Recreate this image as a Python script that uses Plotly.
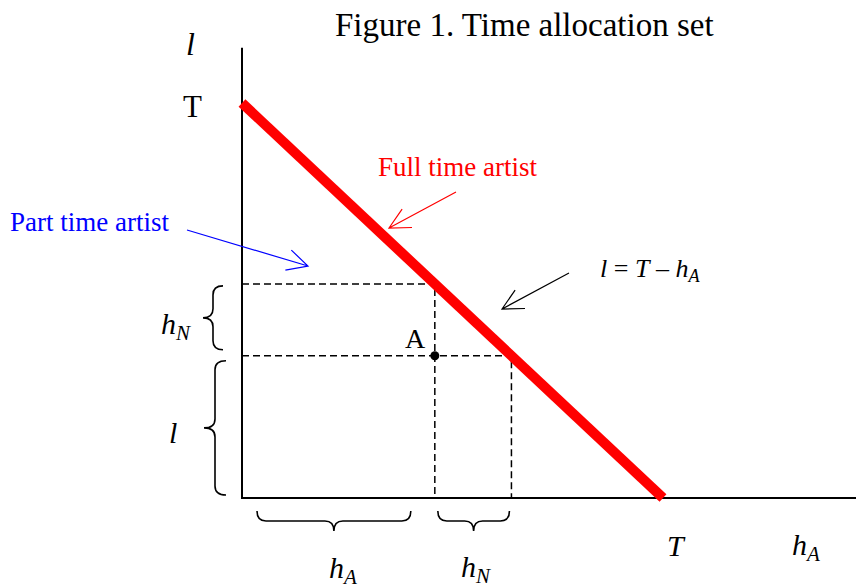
import math
import plotly.graph_objects as go

# Model values: total time T, allocation at point A = (h_A, l)
T = 10.0
budget_x = [0.0, T]
budget_y = [T, 0.0]
point_A = [4.58, 3.6]           # (hours artistic work h_A, leisure l)
axis_extent = [15.2, 12.0]      # length of drawn h_A axis / l axis

hA, l = point_A
hN = T - hA - l                 # non-artistic work

# drawing frame: page-pixel origin and pixels per unit
W, H = 864, 588
PAGE = 8                        # default body margin of the html page
X0, Y0 = 242, 498
SX, SY = 42.1, 39.5
SERIF = "Liberation Serif"


def to_px(x, y):
    return X0 + x * SX, Y0 - y * SY


def to_data(px, py):
    return (px - X0) / SX, (Y0 - py) / SY


def fmt(p):
    x, y = to_data(*p)
    return "%.4f,%.4f" % (x, y)


def brace_path(p0, p1, n, e=10, t=10, r=9):
    """Curly brace in pixel space from p0 to p1, tip pointing along n."""
    (x0, y0), (x1, y1) = p0, p1
    L = math.hypot(x1 - x0, y1 - y0)
    ux, uy = (x1 - x0) / L, (y1 - y0) / L
    nx, ny = n
    mx, my = (x0 + x1) / 2, (y0 + y1) / 2
    return (
        "M" + fmt((x0 - nx * e, y0 - ny * e))
        + " Q" + fmt((x0, y0)) + " " + fmt((x0 + ux * r, y0 + uy * r))
        + " L" + fmt((mx - ux * r, my - uy * r))
        + " Q" + fmt((mx, my)) + " " + fmt((mx + nx * t, my + ny * t))
        + " Q" + fmt((mx, my)) + " " + fmt((mx + ux * r, my + uy * r))
        + " L" + fmt((x1 - ux * r, y1 - uy * r))
        + " Q" + fmt((x1, y1)) + " " + fmt((x1 - nx * e, y1 - ny * e))
    )


def arrow_path(tail, head, length=23, spread=27):
    hx, hy = head
    ang = math.atan2(tail[1] - hy, tail[0] - hx)
    barbs = [(hx + length * math.cos(ang + s * math.radians(spread)),
              hy + length * math.sin(ang + s * math.radians(spread))) for s in (-1, 1)]
    return ("M" + fmt(tail) + " L" + fmt(head)
            + " M" + fmt(barbs[0]) + " L" + fmt(head) + " L" + fmt(barbs[1]))


fig = go.Figure()

# axes
fig.add_trace(go.Scatter(x=[0, 0, axis_extent[0]], y=[axis_extent[1] - 0.6, 0, 0],
                         mode="lines", line=dict(color="black", width=2),
                         hoverinfo="skip"))

# dashed guides through A
dash = dict(color="black", width=1.5, dash="7px,4px")
fig.add_trace(go.Scatter(x=[0, hA, hA], y=[T - hA, T - hA, 0], mode="lines",
                         line=dash, hoverinfo="skip"))
fig.add_trace(go.Scatter(x=[0, T - l, T - l], y=[l, l, 0], mode="lines",
                         line=dash, hoverinfo="skip"))

# time constraint l = T - h_A
fig.add_trace(go.Scatter(x=budget_x, y=budget_y, mode="lines",
                         line=dict(color="#ff0000", width=10), hoverinfo="skip"))

# point A
fig.add_trace(go.Scatter(x=[hA], y=[l], mode="markers",
                         marker=dict(color="black", size=9)))

shapes = []
brace_line = dict(color="black", width=1.6)
_, py_top = to_px(0, T - hA)
_, py_l = to_px(0, l)
px_hA, _ = to_px(hA, 0)
px_TL, _ = to_px(T - l, 0)
# vertical braces
shapes.append(dict(type="path", path=brace_path((X0 - 29, py_top + 2), (X0 - 29, py_l - 6), (-1, 0)),
                   line=brace_line))
shapes.append(dict(type="path", path=brace_path((X0 - 27, py_l + 5), (X0 - 27, Y0 - 3), (-1, 0), e=11, t=11),
                   line=brace_line))
# horizontal braces
shapes.append(dict(type="path", path=brace_path((X0 + 15, Y0 + 23), (px_hA - 24, Y0 + 23), (0, 1)),
                   line=brace_line))
shapes.append(dict(type="path", path=brace_path((px_hA + 3, Y0 + 23), (px_TL - 2, Y0 + 23), (0, 1)),
                   line=brace_line))

# pointer arrows
shapes.append(dict(type="path", path=arrow_path((187, 230), (308, 266)),
                   line=dict(color="#0000ff", width=1.2)))
shapes.append(dict(type="path", path=arrow_path((456, 192), (389, 228)),
                   line=dict(color="#ff0000", width=1.2)))
shapes.append(dict(type="path", path=arrow_path((569, 273), (502, 309)),
                   line=dict(color="black", width=1.2)))
for s in shapes:
    s.update(xref="x", yref="y")


def label(text, px, py, size, color="black"):
    x, y = to_data(px, py)
    return dict(x=x, y=y, xref="x", yref="y", text=text, showarrow=False,
                font=dict(family=SERIF, size=size, color=color),
                xanchor="center", yanchor="middle")


annotations = [
    label("Figure 1. Time allocation set", 524, 25, 33),
    label("<i>l</i>", 190, 44, 32),
    label("T", 192, 106, 31),
    label("Full time artist", 457, 167, 27, "#ff0000"),
    label("Part time artist", 89, 222, 27, "#0000ff"),
    label("<i>l</i> = <i>T</i> – <i>h<sub>A</sub></i>", 650, 270, 26),
    label("<i>h<sub>N</sub></i>", 176, 326, 30),
    label("<i>l</i>", 173, 432, 30),
    label("A", 415, 338, 28),
    label("<i>T</i>", 676, 545, 30),
    label("<i>h<sub>A</sub></i>", 806, 547, 30),
    label("<i>h<sub>A</sub></i>", 343, 570, 30),
    label("<i>h<sub>N</sub></i>", 476, 569, 30),
]

fig.update_layout(
    width=W, height=H,
    margin=dict(l=0, r=0, t=0, b=0),
    plot_bgcolor="white", paper_bgcolor="white",
    showlegend=False,
    # the page body offsets the figure by PAGE px, so shift the visible window
    xaxis=dict(visible=False, range=[(PAGE - X0) / SX, (W + PAGE - X0) / SX]),
    yaxis=dict(visible=False, range=[(Y0 - H - PAGE) / SY, (Y0 - PAGE) / SY]),
    shapes=shapes,
    annotations=annotations,
)

fig.write_html("out.html")
